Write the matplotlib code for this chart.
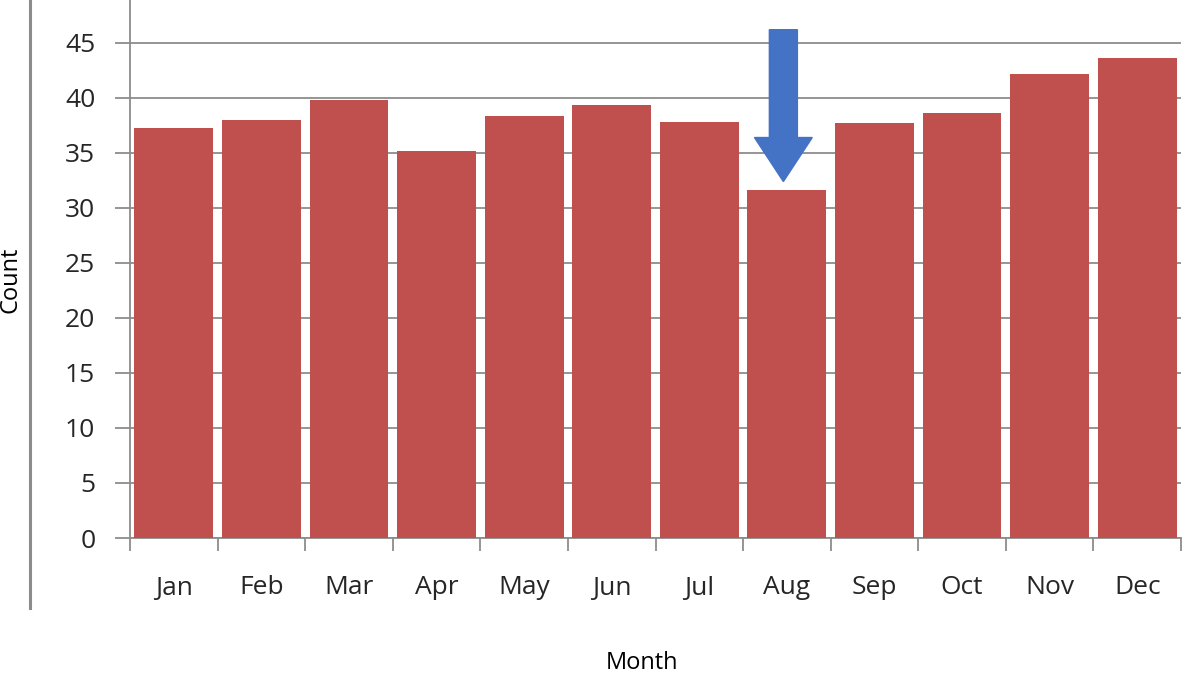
import matplotlib.pyplot as plt
from matplotlib.patches import FancyArrow

months = ['Jan', 'Feb', 'Mar', 'Apr', 'May', 'Jun', 'Jul', 'Aug', 'Sep', 'Oct', 'Nov', 'Dec']
counts = [37.3, 38.0, 39.8, 35.2, 38.4, 39.4, 37.8, 31.6, 37.7, 38.6, 42.2, 43.6]
yticks = [0, 5, 10, 15, 20, 25, 30, 35, 40, 45]

plt.rcParams['font.family'] = ['Open Sans', 'DejaVu Sans']

fig = plt.figure(figsize=(11.82, 6.73), dpi=100)
ax = fig.add_axes([130 / 1182, 1 - 538 / 673, 1051 / 1182, 538 / 673])

x = list(range(len(months)))
ax.bar(x, counts, width=0.9, color='#C0504D', zorder=3)

ax.set_xlim(-0.5, len(months) - 0.5)
ax.set_ylim(0, 48.9)
ax.set_yticks(yticks)
ax.set_xticks(x)
ax.set_xticklabels(months)
ax.set_xticks([i - 0.5 for i in range(len(months) + 1)], minor=True)

ax.grid(axis='y', color='#8c8c8c', linewidth=1.3, zorder=0)
for s in ['top', 'right']:
    ax.spines[s].set_visible(False)
ax.spines['left'].set_color('#8c8c8c')
ax.spines['bottom'].set_color('#8c8c8c')
ax.spines['left'].set_linewidth(1.3)
ax.spines['bottom'].set_linewidth(1.3)

ax.tick_params(axis='y', length=11, width=1.3, color='#8c8c8c', labelsize=19,
               labelcolor='#262626', pad=14)
ax.tick_params(axis='x', which='major', length=0, labelsize=19, labelcolor='#262626', pad=27)
ax.tick_params(axis='x', which='minor', length=9, width=1.3, color='#8c8c8c')

# highlight arrow over August
aug = months.index('Aug')
ax.add_patch(FancyArrow(aug - 0.04, 46.2, 0, 32.4 - 46.2, width=0.32,
                        head_width=0.66, head_length=4.0, length_includes_head=True,
                        color='#4472C4', zorder=5, clip_on=False))

fig.text(10 / 1182, 1 - 280 / 673, 'Count', rotation=90, ha='center', va='center',
         fontsize=17, color='black')
fig.text(642 / 1182, 1 - 663 / 673, 'Month', ha='center', va='center',
         fontsize=17, color='black')

# frame line on the left
fig.add_artist(plt.Line2D([30 / 1182, 30 / 1182], [1 - 608 / 673, 1], transform=fig.transFigure,
                          color='#8c8c8c', linewidth=2.2))

fig.savefig('out.png', dpi=100)
